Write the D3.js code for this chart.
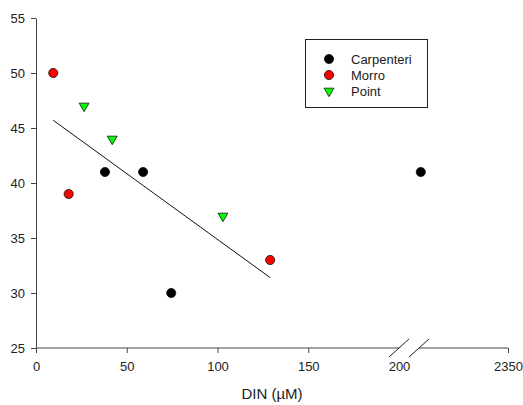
<!DOCTYPE html>
<html>
<head>
<meta charset="utf-8">
<script src="https://cdn.jsdelivr.net/npm/d3@7"></script>
<style>
  body { margin: 0; background: #fff; }
  text { font-family: "Liberation Sans", Arial, sans-serif; fill: #222; }
</style>
</head>
<body>
<div id="chart"></div>
<script>
// data
const sites = ["Carpenteri", "Morro", "Point"];
const carpenteriX = [38, 59, 74.5, 2301];
const carpenteriY = [41, 41, 30, 41];
const morroX = [9.5, 18, 129];
const morroY = [50, 39, 33];
const pointX = [26.5, 42, 103];
const pointY = [47, 44, 37];
const fitX = [9.5, 129];
const fitY = [45.7, 31.4];
const xTicks = [0, 50, 100, 150, 200, 2350];
const yTicks = [25, 30, 35, 40, 45, 50, 55];

let width = 523, height = 405;

let svg = d3.select('#chart')
  .append('svg')
  .attr('width', width)
  .attr('height', height);

// x axis has a break between 200 and 2300
let xScale = d3.scaleLinear()
  .domain([0, 200, 2300, 2350])
  .range([36, 399, 419, 508]);

let yScale = d3.scaleLinear()
  .domain([25, 55])
  .range([348, 18]);

// y axis
let yAxis = svg.append('g')
  .attr('transform', 'translate(36,0)')
  .call(d3.axisLeft(yScale).tickValues(yTicks).tickSize(5).tickSizeOuter(0).tickPadding(6));
yAxis.selectAll('text').style('font-size', '13px').attr('dy', '0.35em');
yAxis.selectAll('path, line').attr('stroke', '#444');

// x axis, domain path removed and drawn in two pieces
let xAxis = svg.append('g')
  .attr('transform', 'translate(0,348)')
  .call(d3.axisBottom(xScale).tickValues(xTicks).tickFormat(d3.format('d')).tickSize(5).tickPadding(9));
xAxis.select('.domain').remove();
xAxis.selectAll('text').style('font-size', '13px');
xAxis.selectAll('line').attr('stroke', '#444');
xAxis.selectAll('.tick').filter(d => d === 200).select('line').remove();

svg.append('line')
  .attr('x1', xScale(0)).attr('x2', xScale(200))
  .attr('y1', 348).attr('y2', 348)
  .attr('stroke', '#444');
svg.append('line')
  .attr('x1', xScale(2300)).attr('x2', xScale(2350))
  .attr('y1', 348).attr('y2', 348)
  .attr('stroke', '#444');

// break marks
[xScale(200), xScale(2300)].forEach(cx => {
  svg.append('line')
    .attr('x1', cx - 10).attr('y1', 357)
    .attr('x2', cx + 10).attr('y2', 339)
    .attr('stroke', '#222');
});

// axis label
svg.append('text')
  .attr('x', (xScale(0) + xScale(2350)) / 2)
  .attr('y', 399)
  .attr('text-anchor', 'middle')
  .style('font-size', '15px')
  .text('DIN (\u00b5M)');

// regression line
svg.append('path')
  .datum(fitX.map((x, i) => [x, fitY[i]]))
  .attr('fill', 'none')
  .attr('stroke', '#111')
  .attr('stroke-width', 1)
  .attr('d', d3.line().x(d => xScale(d[0])).y(d => yScale(d[1])));

const circle = d3.symbol().type(d3.symbolCircle).size(66);
const tri = d3.symbol().type(d3.symbolTriangle).size(42);

function drawSeries(xs, ys, sym, fill, rot) {
  svg.append('g').selectAll('path')
    .data(xs.map((x, i) => [x, ys[i]]))
    .enter()
    .append('path')
    .attr('d', sym)
    .attr('transform', d => `translate(${xScale(d[0])},${yScale(d[1])}) rotate(${rot})`)
    .attr('fill', fill)
    .attr('stroke', '#111')
    .attr('stroke-width', 0.8);
}
drawSeries(carpenteriX, carpenteriY, circle, '#000', 0);
drawSeries(morroX, morroY, circle, '#ff0000', 0);
drawSeries(pointX, pointY, tri, '#00ff00', 180);

// legend
let legend = svg.append('g');
legend.append('rect')
  .attr('x', 305.5).attr('y', 39.5)
  .attr('width', 122).attr('height', 68)
  .attr('fill', 'none')
  .attr('stroke', '#222');

const legendFill = ['#000', '#ff0000', '#00ff00'];
const legendRowY = [59, 75, 91];
sites.forEach((s, i) => {
  legend.append('path')
    .attr('d', i === 2 ? tri() : circle())
    .attr('transform', `translate(329,${legendRowY[i]}) rotate(${i === 2 ? 180 : 0})`)
    .attr('fill', legendFill[i])
    .attr('stroke', '#111')
    .attr('stroke-width', 0.8);
  legend.append('text')
    .attr('x', 351)
    .attr('y', legendRowY[i] + 4.5)
    .style('font-size', '13px')
    .text(s);
});
</script>
</body>
</html>
